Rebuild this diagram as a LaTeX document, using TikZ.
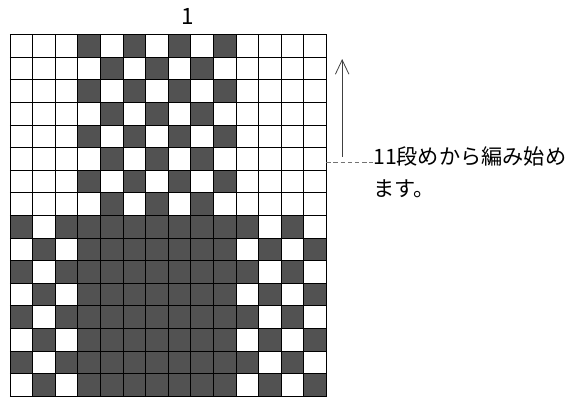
\documentclass[tikz,border=0pt]{standalone}
\usepackage{fontspec}
\newfontfamily\jpfont{Noto Sans CJK JP}
\usetikzlibrary{arrows.meta}

\tikzset{
  darkcell/.style={fill=black!68},
  gridline/.style={draw=black,line width=0.5pt},
  leader/.style={draw=black!55,dash pattern=on 0.12cm off 0.07cm,line width=0.5pt},
  rowarrow/.style={draw=black!75,line width=0.6pt,-{Straight Barb[length=0.38cm,width=0.36cm]}},
  note/.style={font=\jpfont\fontsize{16}{22}\selectfont,inner sep=0pt,anchor=base west}
}

\begin{document}
\begin{tikzpicture}[x=1cm,y=1cm]
  \useasboundingbox (-0.265,-0.133) rectangle (15.215,10.517);

  % Upper half (rows 1-8 from top): checks in the middle band
  \foreach \r in {1,...,8}
    \foreach \c in {4,...,10}{
      \pgfmathtruncatemacro{\parity}{mod(\r+\c,2)}
      \ifnum\parity=1 \path[darkcell] ({(\c-1)*0.6},{(16-\r)*0.6}) rectangle +(0.6,0.6); \fi
    }

  % Lower half (rows 9-16): solid band, checks at both sides
  \path[darkcell] (1.8,0) rectangle (6.0,4.8);
  \foreach \r in {9,...,16}
    \foreach \c in {1,2,3,11,12,13,14}{
      \pgfmathtruncatemacro{\parity}{mod(\r+\c,2)}
      \ifnum\parity=0 \path[darkcell] ({(\c-1)*0.6},{(16-\r)*0.6}) rectangle +(0.6,0.6); \fi
    }

  % Grid
  \draw[gridline,step=0.6] (0,0) grid (8.4,9.6);
  \draw[gridline] (0,0) rectangle (8.4,9.6);

  % Title
  \node[font=\jpfont\fontsize{17}{22}\selectfont] (title) at (4.73,10.09) {1};

  % Note with arrow
  \node[note] (note1) at (9.64,6.15) {11段めから編み始め};
  \node[note] (note2) at (9.64,5.30) {ます。};
  \coordinate (start) at (8.4,6.2);
  \coordinate (tail) at (8.82,6.35);
  \coordinate (tip) at (8.82,8.95);
  \draw[leader] (start) -- (start -| note1.west);
  \draw[rowarrow] (tail) -- (tip);
\end{tikzpicture}
\end{document}
